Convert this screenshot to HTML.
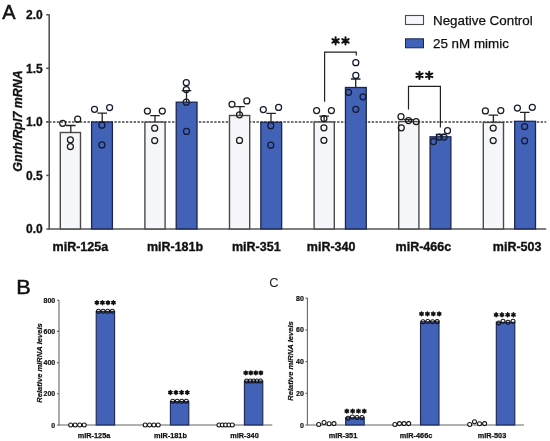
<!DOCTYPE html>
<html><head><meta charset="utf-8"><title>miRNA mimic figure</title>
<style>
html,body{margin:0;padding:0;background:#fff;}
body{width:550px;height:441px;overflow:hidden;font-family:"Liberation Sans",sans-serif;}
svg{display:block;filter:blur(0.4px);}
</style></head>
<body>
<svg width="550" height="441" viewBox="0 0 550 441">
<rect width="550" height="441" fill="#fff"/>
<g fill="none" stroke="#555555" stroke-width="1.6">
<path d="M49.2 14.2V229.7"/>
<path d="M46.3 228.95H546.2"/>
<path d="M46.3 14.75H49.2"/>
<path d="M46.3 68.3H49.2"/>
<path d="M46.3 121.85H49.2"/>
<path d="M46.3 175.4H49.2"/>
</g>
<g font-family="Liberation Sans, sans-serif" font-weight="bold" font-size="12" fill="#111" stroke="#111" stroke-width="0.3" text-anchor="end">
<text x="42.8" y="19.05">2.0</text>
<text x="42.8" y="72.6">1.5</text>
<text x="42.8" y="126.15">1.0</text>
<text x="42.8" y="179.7">0.5</text>
<text x="42.8" y="233.25">0.0</text>
</g>
<path d="M46.5 122H546.2" stroke="#444" stroke-width="1.5" stroke-dasharray="2.4 1.44" stroke-dashoffset="1.23" fill="none"/>
<rect x="60.3" y="132.5" width="20.2" height="96.45" fill="#f6f7fa" stroke="#4a4a4a" stroke-width="1.4"/>
<rect x="91.6" y="122" width="20.8" height="106.95" fill="#4262b8" stroke="#1b2550" stroke-width="1.3"/>
<rect x="144.9" y="122.1" width="20.2" height="106.85" fill="#f6f7fa" stroke="#4a4a4a" stroke-width="1.4"/>
<rect x="176.22" y="102.2" width="20.8" height="126.75" fill="#4262b8" stroke="#1b2550" stroke-width="1.3"/>
<rect x="229.5" y="115.5" width="20.2" height="113.45" fill="#f6f7fa" stroke="#4a4a4a" stroke-width="1.4"/>
<rect x="260.84" y="122.3" width="20.8" height="106.65" fill="#4262b8" stroke="#1b2550" stroke-width="1.3"/>
<rect x="314.1" y="122" width="20.2" height="106.95" fill="#f6f7fa" stroke="#4a4a4a" stroke-width="1.4"/>
<rect x="345.46" y="87.5" width="20.8" height="141.45" fill="#4262b8" stroke="#1b2550" stroke-width="1.3"/>
<rect x="398.7" y="121.6" width="20.2" height="107.35" fill="#f6f7fa" stroke="#4a4a4a" stroke-width="1.4"/>
<rect x="430.08" y="136.8" width="20.8" height="92.15" fill="#4262b8" stroke="#1b2550" stroke-width="1.3"/>
<rect x="483.3" y="122.4" width="20.2" height="106.55" fill="#f6f7fa" stroke="#4a4a4a" stroke-width="1.4"/>
<rect x="514.7" y="121.3" width="20.8" height="107.65" fill="#4262b8" stroke="#1b2550" stroke-width="1.3"/>
<g stroke="#222" stroke-width="1.3" fill="none">
<path d="M70.8 132.5V125.5M66 125.5H75.6"/>
<path d="M155 122.1V115.6M150.2 115.6H159.8"/>
<path d="M240 115.5V106.6M235.2 106.6H244.8"/>
<path d="M324.1 122V116.1M319.3 116.1H328.9"/>
<path d="M408.7 121.6V119.6M403.9 119.6H413.5"/>
<path d="M493.4 122.4V115.1M488.6 115.1H498.2"/>
<path d="M102.2 122V113.2M97.4 113.2H107"/>
<path d="M186.5 102.2V90.6M181.7 90.6H191.3"/>
<path d="M271 122.3V113.4M266.2 113.4H275.8"/>
<path d="M355.7 87.5V79M350.9 79H360.5"/>
<path d="M440.5 136.8V134.5M435.7 134.5H445.3"/>
<path d="M524.8 121.3V112.4M520 112.4H529.6"/>
</g>
<g fill="none" stroke="#1a1a1a" stroke-width="1.25">
<circle cx="62.7" cy="123.3" r="3.0"/>
<circle cx="77.7" cy="119.2" r="3.0"/>
<circle cx="70.4" cy="139.8" r="3.0"/>
<circle cx="70.4" cy="146.5" r="3.0"/>
<circle cx="147.4" cy="111" r="3.0"/>
<circle cx="162.3" cy="111" r="3.0"/>
<circle cx="154.7" cy="128.2" r="3.0"/>
<circle cx="154.7" cy="140.5" r="3.0"/>
<circle cx="232" cy="104.3" r="3.0"/>
<circle cx="246.8" cy="100.9" r="3.0"/>
<circle cx="239.5" cy="114.8" r="3.0"/>
<circle cx="239.5" cy="140.4" r="3.0"/>
<circle cx="316.6" cy="110.6" r="3.0"/>
<circle cx="331.4" cy="110.6" r="3.0"/>
<circle cx="323.9" cy="118.6" r="3.0"/>
<circle cx="323.9" cy="127.8" r="3.0"/>
<circle cx="323.9" cy="140.3" r="3.0"/>
<circle cx="401" cy="116.7" r="3.0"/>
<circle cx="408.5" cy="120.5" r="3.0"/>
<circle cx="416.1" cy="121.5" r="3.0"/>
<circle cx="401.3" cy="127.8" r="3.0"/>
<circle cx="485.4" cy="110.9" r="3.0"/>
<circle cx="500.8" cy="110.5" r="3.0"/>
<circle cx="493.2" cy="128.1" r="3.0"/>
<circle cx="493.2" cy="140.6" r="3.0"/>
</g>
<g fill="none" stroke="#141a30" stroke-width="1.25">
<circle cx="94.5" cy="109.3" r="3.0"/>
<circle cx="109.6" cy="107.5" r="3.0"/>
<circle cx="101.9" cy="125.2" r="3.0"/>
<circle cx="101.9" cy="144.9" r="3.0"/>
<circle cx="186.3" cy="82.7" r="3.0"/>
<circle cx="186.3" cy="89.5" r="3.0"/>
<circle cx="186.3" cy="102.2" r="3.0"/>
<circle cx="186.5" cy="131.4" r="3.0"/>
<circle cx="263.3" cy="109.5" r="3.0"/>
<circle cx="278.6" cy="107.4" r="3.0"/>
<circle cx="270.8" cy="125.7" r="3.0"/>
<circle cx="270.8" cy="145.2" r="3.0"/>
<circle cx="355.8" cy="62.7" r="3.0"/>
<circle cx="355.8" cy="75.4" r="3.0"/>
<circle cx="348.5" cy="92.3" r="3.0"/>
<circle cx="363" cy="96.8" r="3.0"/>
<circle cx="355.8" cy="109.3" r="3.0"/>
<circle cx="433.5" cy="141.5" r="3.0"/>
<circle cx="439.3" cy="137" r="3.0"/>
<circle cx="444" cy="137" r="3.0"/>
<circle cx="447.5" cy="130.7" r="3.0"/>
<circle cx="517.4" cy="108.1" r="3.0"/>
<circle cx="532.3" cy="107.3" r="3.0"/>
<circle cx="524.6" cy="126.6" r="3.0"/>
<circle cx="524.6" cy="140.8" r="3.0"/>
</g>
<g fill="none" stroke="#222" stroke-width="1.2">
<path d="M324.6 101.7V52.2H356.3V55.6"/>
<path d="M408.5 109.5V86.4H440.4V127.5"/>
</g>
<path d="M335.6 37.25L335.6 44.55M332.44 39.07L338.76 42.73M338.76 39.07L332.44 42.73" stroke="#111" stroke-width="2" stroke-linecap="round" fill="none"/>
<path d="M345.5 37.25L345.5 44.55M342.34 39.07L348.66 42.73M348.66 39.07L342.34 42.73" stroke="#111" stroke-width="2" stroke-linecap="round" fill="none"/>
<path d="M419.5 71.65L419.5 78.95M416.34 73.47L422.66 77.12M422.66 73.47L416.34 77.12" stroke="#111" stroke-width="2" stroke-linecap="round" fill="none"/>
<path d="M429.2 71.65L429.2 78.95M426.04 73.47L432.36 77.12M432.36 73.47L426.04 77.12" stroke="#111" stroke-width="2" stroke-linecap="round" fill="none"/>
<g font-family="Liberation Sans, sans-serif" font-weight="bold" font-size="12.5" fill="#111" stroke="#111" stroke-width="0.35">
<text x="52.6" y="250.9">miR-125a</text>
<text x="146.9" y="250.9">miR-181b</text>
<text x="232" y="250.9">miR-351</text>
<text x="306.8" y="250.9">miR-340</text>
<text x="395.6" y="250.9">miR-466c</text>
<text x="492.8" y="250.9">miR-503</text>
</g>
<text transform="translate(22.3 121) rotate(-90)" text-anchor="middle" font-family="Liberation Sans, sans-serif" font-weight="bold" font-style="italic" font-size="12.45" fill="#111" stroke="#111" stroke-width="0.3">Gnrh/Rpl7 mRNA</text>
<text x="2.3" y="19" font-family="Liberation Sans, sans-serif" font-size="20" fill="#111" stroke="#111" stroke-width="0.5">A</text>
<rect x="405.5" y="15.5" width="18" height="9" fill="#f6f7fa" stroke="#4a4a4a" stroke-width="1.1"/>
<rect x="405.5" y="38.8" width="18" height="9" fill="#4262b8" stroke="#1b2550" stroke-width="1"/>
<g font-family="Liberation Sans, sans-serif" font-size="13.4" fill="#111" stroke="#111" stroke-width="0.25">
<text x="433" y="24.6">Negative Control</text>
<text x="433" y="47.9">25 nM mimic</text>
</g>
<text transform="translate(16.2 294.3) scale(1.08 1)" font-family="Liberation Sans, sans-serif" font-size="20" fill="#111" stroke="#111" stroke-width="0.5">B</text>
<g fill="none" stroke="#666" stroke-width="1.1">
<path d="M59 300V425.5"/>
<path d="M57 425H272.3"/>
<path d="M57 300.2H59"/>
<path d="M57 331.4H59"/>
<path d="M57 362.6H59"/>
<path d="M57 393.8H59"/>
</g>
<g font-family="Liberation Sans, sans-serif" font-weight="bold" font-size="7" fill="#111" stroke="#111" stroke-width="0.2" text-anchor="end">
<text x="55.2" y="302.7">800</text>
<text x="55.2" y="333.9">600</text>
<text x="55.2" y="365.1">400</text>
<text x="55.2" y="396.3">200</text>
<text x="55.2" y="427.5">0</text>
</g>
<text transform="translate(41.8 363) rotate(-90)" text-anchor="middle" font-family="Liberation Sans, sans-serif" font-weight="bold" font-style="italic" font-size="7.6" fill="#111" stroke="#111" stroke-width="0.2">Relative miRNA levels</text>
<rect x="96.2" y="311.4" width="18.4" height="113.6" fill="#4262b8" stroke="#1b2550" stroke-width="1.1"/>
<rect x="170.4" y="401.5" width="18.4" height="23.5" fill="#4262b8" stroke="#1b2550" stroke-width="1.1"/>
<rect x="244.4" y="381.1" width="18.4" height="43.9" fill="#4262b8" stroke="#1b2550" stroke-width="1.1"/>
<g fill="#fff" stroke="#111" stroke-width="1.05">
<circle cx="70.7" cy="425" r="2.0"/>
<circle cx="75.2" cy="425" r="2.0"/>
<circle cx="79.7" cy="425" r="2.0"/>
<circle cx="84.2" cy="425" r="2.0"/>
<circle cx="145.2" cy="425" r="2.0"/>
<circle cx="149.53" cy="425" r="2.0"/>
<circle cx="153.87" cy="425" r="2.0"/>
<circle cx="158.2" cy="425" r="2.0"/>
<circle cx="219" cy="425" r="2.0"/>
<circle cx="222.32" cy="425" r="2.0"/>
<circle cx="225.65" cy="425" r="2.0"/>
<circle cx="228.98" cy="425" r="2.0"/>
<circle cx="232.3" cy="425" r="2.0"/>
</g>
<g fill="none" stroke="#111" stroke-width="1.05">
<circle cx="98.5" cy="311.2" r="2.0"/>
<circle cx="103.1" cy="311.2" r="2.0"/>
<circle cx="107.7" cy="311.2" r="2.0"/>
<circle cx="112.3" cy="311.2" r="2.0"/>
<circle cx="172.7" cy="401.3" r="2.0"/>
<circle cx="177.23" cy="401.3" r="2.0"/>
<circle cx="181.77" cy="401.3" r="2.0"/>
<circle cx="186.3" cy="401.3" r="2.0"/>
<circle cx="246.7" cy="380.9" r="2.0"/>
<circle cx="250.12" cy="380.9" r="2.0"/>
<circle cx="253.55" cy="380.9" r="2.0"/>
<circle cx="256.97" cy="380.9" r="2.0"/>
<circle cx="260.4" cy="380.9" r="2.0"/>
</g>
<path d="M96.95 300.8L96.95 304.6M95.3 301.75L98.59 303.65M98.59 301.75L95.3 303.65" stroke="#111" stroke-width="1.6" stroke-linecap="round" fill="none"/><path d="M102.45 300.8L102.45 304.6M100.8 301.75L104.09 303.65M104.09 301.75L100.8 303.65" stroke="#111" stroke-width="1.6" stroke-linecap="round" fill="none"/><path d="M107.95 300.8L107.95 304.6M106.31 301.75L109.6 303.65M109.6 301.75L106.31 303.65" stroke="#111" stroke-width="1.6" stroke-linecap="round" fill="none"/><path d="M113.45 300.8L113.45 304.6M111.81 301.75L115.1 303.65M115.1 301.75L111.81 303.65" stroke="#111" stroke-width="1.6" stroke-linecap="round" fill="none"/>
<path d="M170.35 390.6L170.35 394.4M168.7 391.55L171.99 393.45M171.99 391.55L168.7 393.45" stroke="#111" stroke-width="1.6" stroke-linecap="round" fill="none"/><path d="M175.98 390.6L175.98 394.4M174.34 391.55L177.63 393.45M177.63 391.55L174.34 393.45" stroke="#111" stroke-width="1.6" stroke-linecap="round" fill="none"/><path d="M181.62 390.6L181.62 394.4M179.97 391.55L183.26 393.45M183.26 391.55L179.97 393.45" stroke="#111" stroke-width="1.6" stroke-linecap="round" fill="none"/><path d="M187.25 390.6L187.25 394.4M185.61 391.55L188.9 393.45M188.9 391.55L185.61 393.45" stroke="#111" stroke-width="1.6" stroke-linecap="round" fill="none"/>
<path d="M245.75 371L245.75 374.8M244.1 371.95L247.39 373.85M247.39 371.95L244.1 373.85" stroke="#111" stroke-width="1.6" stroke-linecap="round" fill="none"/><path d="M250.78 371L250.78 374.8M249.14 371.95L252.43 373.85M252.43 371.95L249.14 373.85" stroke="#111" stroke-width="1.6" stroke-linecap="round" fill="none"/><path d="M255.82 371L255.82 374.8M254.17 371.95L257.46 373.85M257.46 371.95L254.17 373.85" stroke="#111" stroke-width="1.6" stroke-linecap="round" fill="none"/><path d="M260.85 371L260.85 374.8M259.21 371.95L262.5 373.85M262.5 371.95L259.21 373.85" stroke="#111" stroke-width="1.6" stroke-linecap="round" fill="none"/>
<g font-family="Liberation Sans, sans-serif" font-weight="bold" font-size="7.3" fill="#111" stroke="#111" stroke-width="0.25">
<text x="77.8" y="437.8">miR-125a</text>
<text x="154" y="437.8">miR-181b</text>
<text x="230.3" y="437.8">miR-340</text>
</g>
<text x="269.3" y="286.8" font-family="Liberation Sans, sans-serif" font-size="13" fill="#222">C</text>
<g fill="none" stroke="#666" stroke-width="1.1">
<path d="M307.4 297.8V425.5"/>
<path d="M305.4 425H524"/>
<path d="M305.4 298.2H307.4"/>
<path d="M305.4 329.9H307.4"/>
<path d="M305.4 361.6H307.4"/>
<path d="M305.4 393.3H307.4"/>
</g>
<g font-family="Liberation Sans, sans-serif" font-weight="bold" font-size="7" fill="#111" stroke="#111" stroke-width="0.2" text-anchor="end">
<text x="303.8" y="300.7">80</text>
<text x="303.8" y="332.4">60</text>
<text x="303.8" y="364.1">40</text>
<text x="303.8" y="395.8">20</text>
<text x="303.8" y="427.5">0</text>
</g>
<text transform="translate(293 361) rotate(-90)" text-anchor="middle" font-family="Liberation Sans, sans-serif" font-weight="bold" font-style="italic" font-size="7.6" fill="#111" stroke="#111" stroke-width="0.2">Relative miRNA levels</text>
<rect x="345.7" y="417.8" width="18.5" height="7.2" fill="#4262b8" stroke="#1b2550" stroke-width="1.1"/>
<rect x="420.5" y="321.8" width="18.5" height="103.2" fill="#4262b8" stroke="#1b2550" stroke-width="1.1"/>
<rect x="496.3" y="322.3" width="18.5" height="102.7" fill="#4262b8" stroke="#1b2550" stroke-width="1.1"/>
<g fill="#fff" stroke="#111" stroke-width="1.05">
<circle cx="318.7" cy="424.5" r="2.0"/>
<circle cx="324" cy="422.5" r="2.0"/>
<circle cx="329.1" cy="423.7" r="2.0"/>
<circle cx="334" cy="423.6" r="2.0"/>
<circle cx="394.9" cy="424.4" r="2.0"/>
<circle cx="399.5" cy="423.6" r="2.0"/>
<circle cx="404.1" cy="423.6" r="2.0"/>
<circle cx="408.7" cy="423.6" r="2.0"/>
<circle cx="469.7" cy="424.5" r="2.0"/>
<circle cx="474.5" cy="421.8" r="2.0"/>
<circle cx="479.5" cy="423.8" r="2.0"/>
<circle cx="484.6" cy="423.6" r="2.0"/>
</g>
<g fill="none" stroke="#111" stroke-width="1.05">
<circle cx="348" cy="418.2" r="2.0"/>
<circle cx="352.3" cy="417" r="2.0"/>
<circle cx="357" cy="417.4" r="2.0"/>
<circle cx="362" cy="417.4" r="2.0"/>
<circle cx="423" cy="321.8" r="2.0"/>
<circle cx="427.8" cy="321.4" r="2.0"/>
<circle cx="432.6" cy="321.8" r="2.0"/>
<circle cx="437.2" cy="321.6" r="2.0"/>
<circle cx="498.6" cy="323" r="2.0"/>
<circle cx="503" cy="321.3" r="2.0"/>
<circle cx="508" cy="322.2" r="2.0"/>
<circle cx="513" cy="321.3" r="2.0"/>
</g>
<path d="M346.85 409.2L346.85 413M345.2 410.15L348.49 412.05M348.49 410.15L345.2 412.05" stroke="#111" stroke-width="1.6" stroke-linecap="round" fill="none"/><path d="M352.65 409.2L352.65 413M351 410.15L354.29 412.05M354.29 410.15L351 412.05" stroke="#111" stroke-width="1.6" stroke-linecap="round" fill="none"/><path d="M358.45 409.2L358.45 413M356.81 410.15L360.1 412.05M360.1 410.15L356.81 412.05" stroke="#111" stroke-width="1.6" stroke-linecap="round" fill="none"/><path d="M364.25 409.2L364.25 413M362.61 410.15L365.9 412.05M365.9 410.15L362.61 412.05" stroke="#111" stroke-width="1.6" stroke-linecap="round" fill="none"/>
<path d="M421.55 312L421.55 315.8M419.9 312.95L423.19 314.85M423.19 312.95L419.9 314.85" stroke="#111" stroke-width="1.6" stroke-linecap="round" fill="none"/><path d="M427.42 312L427.42 315.8M425.77 312.95L429.06 314.85M429.06 312.95L425.77 314.85" stroke="#111" stroke-width="1.6" stroke-linecap="round" fill="none"/><path d="M433.28 312L433.28 315.8M431.64 312.95L434.93 314.85M434.93 312.95L431.64 314.85" stroke="#111" stroke-width="1.6" stroke-linecap="round" fill="none"/><path d="M439.15 312L439.15 315.8M437.51 312.95L440.8 314.85M440.8 312.95L437.51 314.85" stroke="#111" stroke-width="1.6" stroke-linecap="round" fill="none"/>
<path d="M496.15 312.9L496.15 316.7M494.5 313.85L497.79 315.75M497.79 313.85L494.5 315.75" stroke="#111" stroke-width="1.6" stroke-linecap="round" fill="none"/><path d="M501.92 312.9L501.92 316.7M500.27 313.85L503.56 315.75M503.56 313.85L500.27 315.75" stroke="#111" stroke-width="1.6" stroke-linecap="round" fill="none"/><path d="M507.68 312.9L507.68 316.7M506.04 313.85L509.33 315.75M509.33 313.85L506.04 315.75" stroke="#111" stroke-width="1.6" stroke-linecap="round" fill="none"/><path d="M513.45 312.9L513.45 316.7M511.81 313.85L515.1 315.75M515.1 313.85L511.81 315.75" stroke="#111" stroke-width="1.6" stroke-linecap="round" fill="none"/>
<g font-family="Liberation Sans, sans-serif" font-weight="bold" font-size="7.3" fill="#111" stroke="#111" stroke-width="0.25">
<text x="328.8" y="437.6">miR-351</text>
<text x="399.8" y="437.6">miR-466c</text>
<text x="477.8" y="437.6">miR-503</text>
</g>
</svg>
</body></html>
